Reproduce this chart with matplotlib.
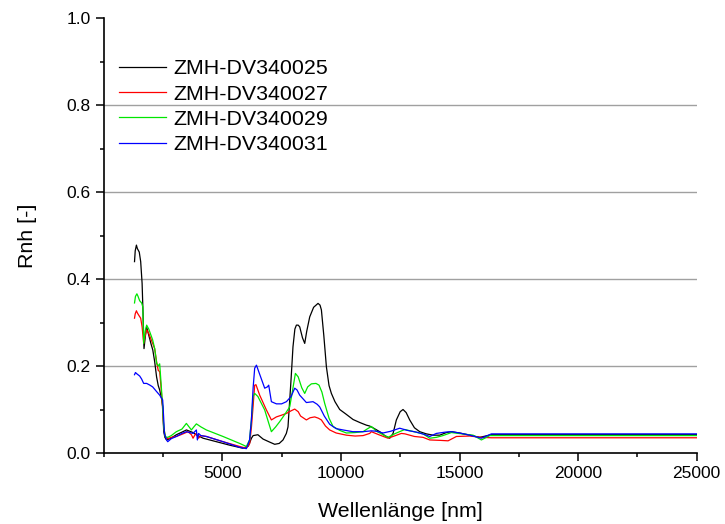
import matplotlib
matplotlib.use("Agg")
import matplotlib.pyplot as plt
from matplotlib.ticker import MultipleLocator

plt.rcParams['font.family'] = ['Liberation Sans', 'DejaVu Sans']

# spectra: wavelength [nm] and Rnh [-]
labels = ["ZMH-DV340025", "ZMH-DV340027", "ZMH-DV340029", "ZMH-DV340031"]
colors = ["black", "#ff0000", "#00e600", "#0000ff"]

wl_25 = [1300, 1330, 1380, 1420, 1500, 1560, 1620, 1660, 1700, 1760, 1810, 1880, 2000, 2070,
         2150, 2230, 2300, 2360, 2440, 2490, 2530, 2580, 2650, 2800, 3064, 3300, 3490, 3770,
         3900, 4190, 4750, 5310, 5870, 6100, 6230, 6300, 6500, 6720, 7000, 7210, 7400, 7560,
         7700, 7770, 7900, 7980, 8060, 8124, 8200, 8264, 8380, 8475, 8560, 8686, 8850, 9036,
         9120, 9178, 9280, 9389, 9500, 9599, 9750, 9950, 10200, 10513, 10800, 11075, 11214,
         11350, 11636, 11850, 12058, 12200, 12338, 12500, 12619, 12750, 12901, 13100, 13323,
         13600, 13886, 14166, 14448, 14659, 15000, 15431, 15853, 16345, 25000]
r_25 = [0.44, 0.465, 0.478, 0.47, 0.462, 0.44, 0.39, 0.32, 0.24, 0.27, 0.29, 0.275, 0.25, 0.237,
        0.21, 0.175, 0.155, 0.145, 0.125, 0.106, 0.05, 0.036, 0.03, 0.033, 0.042, 0.048, 0.053,
        0.047, 0.042, 0.034, 0.026, 0.018, 0.011, 0.016, 0.034, 0.04, 0.042, 0.032, 0.025,
        0.02, 0.022, 0.03, 0.045, 0.06, 0.17, 0.244, 0.285, 0.294, 0.294, 0.29, 0.265, 0.252,
        0.28, 0.313, 0.335, 0.344, 0.34, 0.329, 0.27, 0.198, 0.155, 0.137, 0.118, 0.1, 0.09,
        0.077, 0.07, 0.064, 0.062, 0.058, 0.049, 0.04, 0.034, 0.045, 0.076, 0.095, 0.1, 0.093,
        0.076, 0.058, 0.049, 0.044, 0.041, 0.041, 0.047, 0.049, 0.046, 0.041, 0.036, 0.042,
        0.042]

wl_27 = [1300, 1330, 1380, 1420, 1500, 1560, 1620, 1686, 1750, 1812, 1900, 2065, 2150, 2230,
         2300, 2361, 2420, 2487, 2530, 2600, 2700, 2850, 3064, 3300, 3556, 3700, 3767, 3850,
         3908, 4000, 4100, 4328, 5030, 5733, 6015, 6156, 6230, 6297, 6366, 6420, 6577, 6859,
         7070, 7281, 7500, 7703, 7900, 8053, 8200, 8300, 8545, 8700, 8896, 9050, 9178, 9350,
         9528, 9800, 10232, 10600, 10935, 11214, 11286, 11600, 11987, 12300, 12548, 12700,
         13100, 13462, 13745, 14200, 14518, 14870, 15431, 15923, 16345, 25000]
r_27 = [0.31, 0.32, 0.327, 0.322, 0.315, 0.31, 0.29, 0.252, 0.27, 0.283, 0.275, 0.252, 0.24,
        0.21, 0.19, 0.187, 0.15, 0.099, 0.06, 0.037, 0.033, 0.036, 0.038, 0.043, 0.049, 0.042,
        0.034, 0.042, 0.045, 0.034, 0.04, 0.038, 0.026, 0.015, 0.011, 0.022, 0.06, 0.106,
        0.156, 0.157, 0.133, 0.099, 0.076, 0.083, 0.087, 0.091, 0.097, 0.101, 0.095, 0.085,
        0.076, 0.081, 0.083, 0.08, 0.076, 0.062, 0.053, 0.046, 0.041, 0.039, 0.04, 0.045,
        0.049, 0.042, 0.034, 0.04, 0.045, 0.044, 0.038, 0.036, 0.03, 0.029, 0.028, 0.038,
        0.039, 0.036, 0.035, 0.035]

wl_29 = [1300, 1340, 1400, 1450, 1518, 1600, 1650, 1686, 1750, 1812, 1900, 2065, 2150, 2234,
         2300, 2361, 2420, 2487, 2530, 2600, 2700, 2850, 3064, 3300, 3486, 3600, 3697, 3800,
         3908, 4100, 4328, 5030, 5733, 6015, 6150, 6227, 6297, 6366, 6500, 6788, 6950, 7070,
         7250, 7420, 7650, 7842, 7950, 8082, 8200, 8350, 8475, 8600, 8756, 8950, 9078, 9200,
         9317, 9500, 9669, 9950, 10232, 10600, 10935, 11100, 11286, 11500, 11987, 12300, 12690,
         13000, 13462, 13745, 14025, 14300, 14659, 15100, 15572, 15923, 16275, 16345, 25000]
r_29 = [0.345, 0.36, 0.366, 0.36, 0.35, 0.345, 0.336, 0.252, 0.28, 0.294, 0.285, 0.26, 0.24,
        0.206, 0.2, 0.205, 0.16, 0.106, 0.06, 0.037, 0.036, 0.04, 0.049, 0.055, 0.068, 0.06,
        0.053, 0.06, 0.067, 0.06, 0.053, 0.038, 0.022, 0.015, 0.03, 0.076, 0.13, 0.137, 0.13,
        0.099, 0.07, 0.049, 0.06, 0.072, 0.09, 0.106, 0.14, 0.183, 0.175, 0.15, 0.137, 0.152,
        0.159, 0.16, 0.156, 0.14, 0.114, 0.08, 0.061, 0.052, 0.046, 0.047, 0.049, 0.055,
        0.061, 0.05, 0.036, 0.045, 0.054, 0.05, 0.044, 0.034, 0.036, 0.04, 0.047, 0.044,
        0.041, 0.03, 0.04, 0.04, 0.04]

wl_31 = [1300, 1340, 1400, 1518, 1600, 1686, 1812, 1950, 2065, 2234, 2361, 2487, 2530, 2560,
         2650, 2700, 2850, 3064, 3300, 3486, 3767, 3908, 3950, 4000, 4100, 4328, 5030, 5733,
         6015, 6150, 6227, 6300, 6366, 6440, 6550, 6788, 6900, 6957, 7070, 7281, 7500, 7703,
         7900, 8053, 8150, 8264, 8545, 8825, 9000, 9107, 9300, 9528, 9800, 10091, 10500,
         10935, 11286, 11500, 11776, 12100, 12479, 12800, 13183, 13500, 13745, 14025, 14400,
         14659, 15000, 15431, 15923, 16345, 25000]
r_31 = [0.18, 0.185, 0.182, 0.177, 0.17, 0.16, 0.16, 0.156, 0.152, 0.141, 0.133, 0.122, 0.08,
        0.045, 0.03, 0.026, 0.033, 0.038, 0.045, 0.049, 0.045, 0.053, 0.03, 0.045, 0.04,
        0.038, 0.026, 0.013, 0.01, 0.03, 0.076, 0.15, 0.195, 0.202, 0.185, 0.149, 0.152,
        0.156, 0.118, 0.113, 0.113, 0.118, 0.13, 0.149, 0.145, 0.133, 0.116, 0.118, 0.112,
        0.106, 0.085, 0.066, 0.056, 0.053, 0.049, 0.049, 0.051, 0.05, 0.046, 0.05, 0.057,
        0.052, 0.048, 0.043, 0.038, 0.045, 0.048, 0.049, 0.046, 0.041, 0.034, 0.044, 0.044]

series = [(wl_25, r_25), (wl_27, r_27), (wl_29, r_29), (wl_31, r_31)]

fig = plt.figure(figsize=(7.25, 5.24), dpi=100)
ax = fig.add_axes([0.143, 0.1355, 0.818, 0.83])

for (wl, r), lab, c in zip(series, labels, colors):
    ax.plot(wl, r, color=c, lw=0.9, label=lab)

ax.set_xlim(0, 25000)
ax.set_ylim(0, 1.0)
ax.set_xticks([5000, 10000, 15000, 20000, 25000])
ax.xaxis.set_minor_locator(MultipleLocator(2500))
ax.yaxis.set_major_locator(MultipleLocator(0.2))
ax.yaxis.set_minor_locator(MultipleLocator(0.1))
ax.yaxis.set_major_formatter(plt.FormatStrFormatter('%.1f'))

ax.spines['top'].set_visible(False)
ax.spines['right'].set_visible(False)
for s in ['left', 'bottom']:
    ax.spines[s].set_linewidth(1.2)
ax.tick_params(which='major', direction='out', length=6, width=1.1, labelsize=12.5)
ax.tick_params(which='minor', direction='out', length=3, width=1.1)

ax.yaxis.grid(True, color='#a0a0a0', lw=1)
ax.set_axisbelow(True)
for gl, v in zip(ax.get_ygridlines(), ax.get_yticks()):
    if v <= 0 or v >= 1.0:
        gl.set_visible(False)

ax.set_xlabel("Wellenlänge [nm]", fontsize=15.4, labelpad=15)
ax.set_ylabel("Rnh [-]", fontsize=15.4, labelpad=21)

ax.legend(loc='upper left', bbox_to_anchor=(0.0, 0.94), frameon=False, fontsize=15.4,
          handlelength=2.2, handletextpad=0.35, labelspacing=0.3, borderaxespad=0.3)

fig.savefig("out.png", dpi=100)
